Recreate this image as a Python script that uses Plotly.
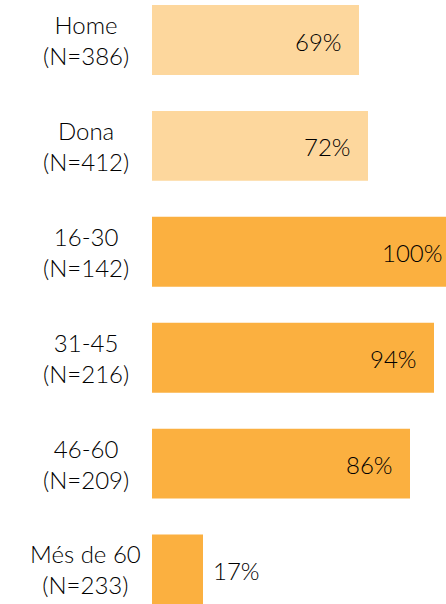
import plotly.graph_objects as go

categories = ["Home", "Dona", "16-30", "31-45", "46-60", "Més de 60"]
sample_sizes = [386, 412, 142, 216, 209, 233]
values = [69, 72, 100, 94, 86, 17]
bar_colors = ["#FDD79D", "#FDD79D", "#FBB040", "#FBB040", "#FBB040", "#FBB040"]

FONT = "Lato, 'Open Sans', sans-serif"
TEXT_COLOR = "#000000"
ypos = list(range(len(categories)))

fig = go.Figure(go.Bar(
    x=values, y=ypos, orientation="h",
    marker=dict(color=bar_colors, line=dict(width=0)),
    width=0.66,
    hoverinfo="skip",
))

# category labels (two lines, centered)
for i, (c, n) in enumerate(zip(categories, sample_sizes)):
    fig.add_annotation(
        x=-0.226, xref="paper", y=i, yref="y",
        text=f"{c}<br>(N={n})", showarrow=False, align="center",
        xanchor="center", yanchor="middle",
        font=dict(family=FONT, size=24, color=TEXT_COLOR, weight=300),
    )

# value labels: inside end for long bars, outside for the short one
for i, v in enumerate(values):
    inside = v >= 30
    fig.add_annotation(
        x=v - 13.5 if inside else v + 11.3, xref="x", y=i, yref="y",
        text=f"{v}%", showarrow=False,
        xanchor="center", yanchor="middle", yshift=-1,
        font=dict(family=FONT, size=24, color=TEXT_COLOR, weight=300),
    )

fig.update_layout(
    width=446, height=604,
    margin=dict(l=152, r=0, t=0, b=0),
    paper_bgcolor="white", plot_bgcolor="white",
    showlegend=False,
    xaxis=dict(range=[0, 98], visible=False, fixedrange=True),
    yaxis=dict(range=[5.326, -0.378], visible=False, fixedrange=True),
)

fig.write_html("out.html", post_script="document.body.style.margin='0';",
               config={"displayModeBar": False})
